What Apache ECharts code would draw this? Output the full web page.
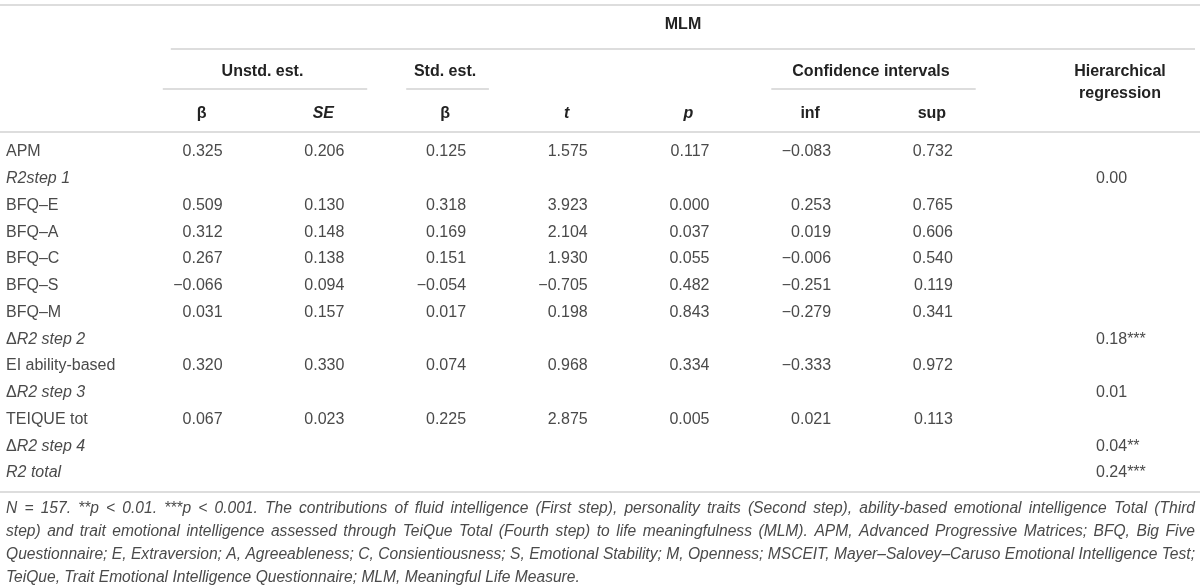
<!DOCTYPE html>
<html>
<head>
<meta charset="utf-8">
<script src="https://cdn.jsdelivr.net/npm/echarts@6/dist/echarts.min.js"></script>
<style>
  html, body { margin: 0; padding: 0; background: #fff; }
  #main { width: 1200px; height: 586px; }
</style>
</head>
<body>
<div id="main"></div>
<script>
// table content
const rowLabels = ['APM', 'R2step 1', 'BFQ–E', 'BFQ–A', 'BFQ–C', 'BFQ–S', 'BFQ–M',
    'ΔR2 step 2', 'EI ability-based', 'ΔR2 step 3', 'TEIQUE tot', 'ΔR2 step 4', 'R2 total'];
const italicRows = [1, 7, 9, 11, 12];

const colKeys = ['beta', 'se', 'stdBeta', 't', 'p', 'inf', 'sup'];
const colTitles = ['β', 'SE', 'β', 't', 'p', 'inf', 'sup'];
const italicCols = [1, 3, 4];

const unstdBeta = [0.325, null, 0.509, 0.312, 0.267, -0.066, 0.031, null, 0.320, null, 0.067, null, null];
const unstdSE   = [0.206, null, 0.130, 0.148, 0.138, 0.094, 0.157, null, 0.330, null, 0.023, null, null];
const stdBeta   = [0.125, null, 0.318, 0.169, 0.151, -0.054, 0.017, null, 0.074, null, 0.225, null, null];
const tValues   = [1.575, null, 3.923, 2.104, 1.930, -0.705, 0.198, null, 0.968, null, 2.875, null, null];
const pValues   = [0.117, null, 0.000, 0.037, 0.055, 0.482, 0.843, null, 0.334, null, 0.005, null, null];
const ciInf     = [-0.083, null, 0.253, 0.019, -0.006, -0.251, -0.279, null, -0.333, null, 0.021, null, null];
const ciSup     = [0.732, null, 0.765, 0.606, 0.540, 0.119, 0.341, null, 0.972, null, 0.113, null, null];

const hrValues = [null, 0.00, null, null, null, null, null, 0.18, null, 0.01, null, 0.04, 0.24];
const hrStars  = ['', '', '', '', '', '', '', '***', '', '', '', '**', '***'];

const groupHeaders = [
    { name: 'Unstd. est.', from: 0, to: 1 },
    { name: 'Std. est.', from: 2, to: 2 },
    { name: 'Confidence intervals', from: 5, to: 6 }
];

const footnoteLines = [
    'N = 157. **p < 0.01. ***p < 0.001. The contributions of fluid intelligence (First step), personality traits (Second step), ability-based emotional intelligence Total (Third',
    'step) and trait emotional intelligence assessed through TeiQue Total (Fourth step) to life meaningfulness (MLM). APM, Advanced Progressive Matrices; BFQ, Big Five',
    'Questionnaire; E, Extraversion; A, Agreeableness; C, Consientiousness; S, Emotional Stability; M, Openness; MSCEIT, Mayer–Salovey–Caruso Emotional Intelligence Test;',
    'TeiQue, Trait Emotional Intelligence Questionnaire; MLM, Meaningful Life Measure.'
];

const FONT = '"Liberation Sans", Arial, Helvetica, sans-serif';
const BODY = '#4a4a4a';
const HEAD = '#222';
const RULE = '#d2d2d2';

const columns = [unstdBeta, unstdSE, stdBeta, tValues, pValues, ciInf, ciSup];

function fmt(v, d) {
    return v.toFixed(d).replace('-', '\u2212');
}

const cells = [];
columns.forEach((col, c) => {
    col.forEach((v, r) => {
        if (v !== null) cells.push({ value: [c, r], text: fmt(v, 3) });
    });
});
const hrCells = [];
hrValues.forEach((v, r) => {
    if (v !== null) hrCells.push({ value: [0, r], text: fmt(v, 2) + hrStars[r] });
});

// layout
const bandW = 121.7;
const gridLeft = 140.8;
const gridTop = 138.6;
const gridH = 13 * 26.75;

const chart = echarts.init(document.getElementById('main'), null, { renderer: 'canvas' });

const hidden = { axisLine: { show: false }, axisTick: { show: false }, splitLine: { show: false } };

chart.setOption({
    animation: false,
    grid: [
        { left: gridLeft, top: gridTop, width: bandW * 7, height: gridH },
        { left: 1040, top: gridTop, width: 160, height: gridH }
    ],
    xAxis: [
        Object.assign({
            gridIndex: 0, type: 'category', position: 'top', data: colKeys,
            axisLabel: {
                interval: 0, margin: 25, verticalAlign: 'middle',
                formatter: (v, i) => (italicCols.includes(i) ? '{bi|' : '{b|') + colTitles[i] + '}',
                rich: {
                    b: { fontFamily: FONT, fontSize: 16, fontWeight: 'bold', color: HEAD },
                    bi: { fontFamily: FONT, fontSize: 16, fontWeight: 'bold', fontStyle: 'italic', color: HEAD }
                }
            }
        }, hidden),
        Object.assign({
            gridIndex: 1, type: 'category', position: 'top', data: ['Hierarchical\nregression'],
            axisLabel: {
                interval: 0, margin: 56, verticalAlign: 'middle', align: 'center',
                fontFamily: FONT, fontSize: 16, fontWeight: 'bold', color: HEAD, lineHeight: 22
            }
        }, hidden)
    ],
    yAxis: [
        Object.assign({
            gridIndex: 0, type: 'category', inverse: true, data: rowLabels,
            axisLabel: {
                interval: 0, align: 'left', margin: gridLeft - 6,
                formatter: (v, i) => {
                    if (!italicRows.includes(i)) return '{n|' + v + '}';
                    if (v[0] === 'Δ') return '{n|Δ}{i|' + v.slice(1) + '}';
                    return '{i|' + v + '}';
                },
                rich: {
                    n: { fontFamily: FONT, fontSize: 16, color: BODY },
                    i: { fontFamily: FONT, fontSize: 16, fontStyle: 'italic', color: BODY }
                }
            }
        }, hidden),
        Object.assign({ gridIndex: 1, type: 'category', inverse: true, data: rowLabels, show: false }, hidden)
    ],
    series: [
        {
            type: 'custom', xAxisIndex: 0, yAxisIndex: 0, data: cells,
            renderItem: (params, api) => {
                const p = api.coord([api.value(0), api.value(1)]);
                return {
                    type: 'text', x: p[0] + 21, y: p[1],
                    style: {
                        text: cells[params.dataIndex].text, fill: BODY,
                        fontFamily: FONT, fontSize: 16, align: 'right', verticalAlign: 'middle'
                    }
                };
            }
        },
        {
            type: 'custom', xAxisIndex: 1, yAxisIndex: 1, data: hrCells,
            renderItem: (params, api) => {
                const p = api.coord([api.value(0), api.value(1)]);
                return {
                    type: 'text', x: p[0] - 24, y: p[1],
                    style: {
                        text: hrCells[params.dataIndex].text, fill: BODY,
                        fontFamily: FONT, fontSize: 16, align: 'left', verticalAlign: 'middle'
                    }
                };
            }
        }
    ]
});

// header groups, rules and footnote
const colX = i => chart.convertToPixel({ xAxisIndex: 0 }, i);
const graphics = [];

function rule(x1, x2, y) {
    graphics.push({
        type: 'line', shape: { x1: x1, y1: y, x2: x2, y2: y },
        style: { stroke: RULE, lineWidth: 1.5 }, silent: true
    });
}
function text(str, x, y, opts) {
    graphics.push({
        type: 'text', x: x, y: y, silent: true,
        style: Object.assign({
            text: str, fill: HEAD, fontFamily: FONT, fontSize: 16, fontWeight: 'bold',
            align: 'center', verticalAlign: 'middle'
        }, opts || {})
    });
}

rule(0, 1200, 5);
rule(colX(0) - bandW / 2 + 30, 1195, 49);
rule(0, 1200, 132);
rule(0, 1200, 492);
text('MLM', 683, 25);

groupHeaders.forEach(g => {
    const a = colX(g.from) - bandW / 2;
    const b = colX(g.to) + bandW / 2;
    text(g.name, (colX(g.from) + colX(g.to)) / 2, 72);
    rule(a + 22, b - 17, 89);
});

const noteSize = 15.6;
const ctx = document.createElement('canvas').getContext('2d');
ctx.font = 'italic ' + noteSize + 'px ' + FONT;
const noteLeft = 6, noteRight = 1195;
footnoteLines.forEach((line, li) => {
    const y = 509 + li * 23;
    const noteStyle = { fill: BODY, fontFamily: FONT, fontSize: noteSize, fontStyle: 'italic', fontWeight: 'normal', align: 'left' };
    if (li === footnoteLines.length - 1) {
        text(line, noteLeft, y, noteStyle);
        return;
    }
    const words = line.split(' ');
    const widths = words.map(w => ctx.measureText(w).width);
    const total = widths.reduce((s, w) => s + w, 0);
    const gap = (noteRight - noteLeft - total) / (words.length - 1);
    let x = noteLeft;
    words.forEach((w, i) => {
        text(w, x, y, noteStyle);
        x += widths[i] + gap;
    });
});

chart.setOption({ graphic: graphics });
</script>
</body>
</html>
